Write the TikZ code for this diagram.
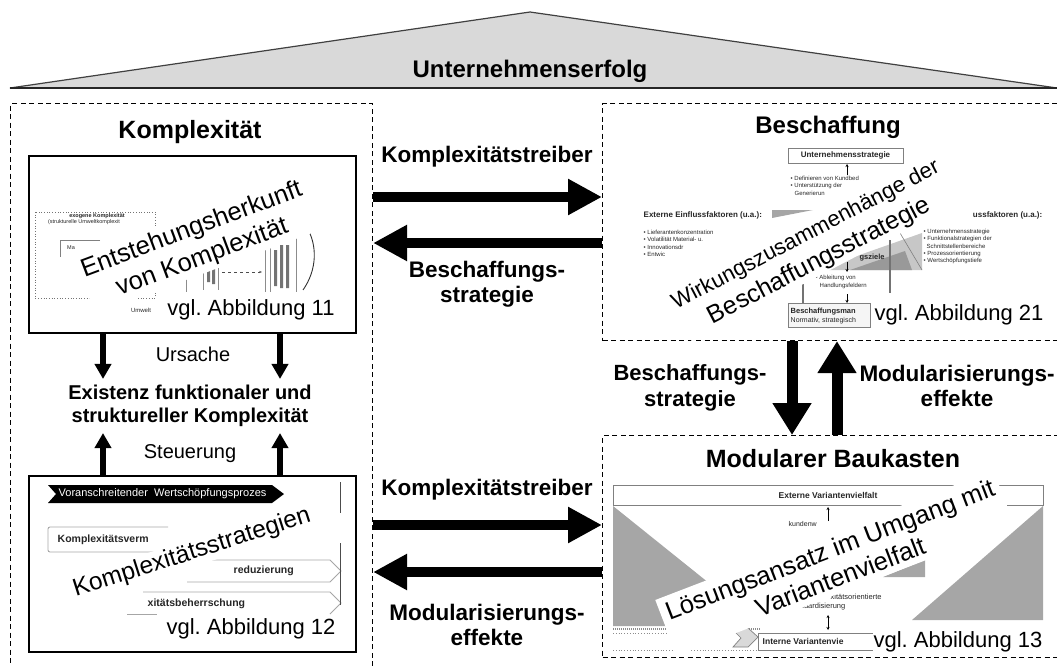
\documentclass[tikz,border=0pt]{standalone}
\usepackage{fontspec}
\setmainfont{Liberation Sans}
\usetikzlibrary{arrows.meta}
\begin{document}
\begin{tikzpicture}[x=1pt,y=-1pt,
  dashbox/.style={draw, dash pattern=on 5pt off 3.5pt, line width=1.1pt, inner sep=0pt, anchor=north west},
  figbox/.style={draw, line width=1.5pt, inner sep=0pt, anchor=north west},
  titletext/.style={font=\fontsize{25}{28}\selectfont\bfseries},
  flowlabel/.style={font=\fontsize{22.5}{25}\selectfont\bfseries, align=center, inner sep=1pt},
  relabel/.style={font=\fontsize{20}{23}\selectfont},
  stamp/.style={fill=white, align=center, inner sep=2pt},
  figref/.style={fill=white, font=\fontsize{22}{24}\selectfont, inner sep=1pt},
  wide arrow/.style={line width=10.5pt, -{Triangle[length=34pt,width=34pt]}},
  tall arrow/.style={line width=11pt, -{Triangle[length=32pt,width=37pt]}},
  thin arrow/.style={line width=5.5pt, -{Triangle[length=15pt,width=16pt]}},
  note/.style={font=\fontsize{#1}{#1}\selectfont, inner sep=0.5pt, text=black!85},
  noteb/.style={font=\fontsize{#1}{#1}\selectfont\bfseries, inner sep=0.5pt, text=black!85},
  sketch/.style={draw=black!50, line width=0.8pt},
  tick/.style={line width=0.7pt, -{Stealth[length=3pt,width=3pt]}},
]
\clip (0,0) rectangle (1057,666);

% roof
\path[fill=black!15, draw=black!75, line width=1.2pt] (10,88) -- (530,12) -- (1057,88) -- cycle;
\draw[line width=2.4pt, black!85] (10,88) -- (1057,88);
\node[font=\fontsize{24}{26}\selectfont\bfseries] (roof) at (530,71) {Unternehmenserfolg};

% the three dashed areas
\node[dashbox, minimum width=362pt, minimum height=600pt] (kbox) at (10,103) {};
\node[dashbox, minimum width=470pt, minimum height=237pt] (bbox) at (602,103) {};
\node[dashbox, minimum width=470pt, minimum height=222pt] (mbox) at (602,435) {};

\node[titletext] (kt) at (190,132) {Komplexität};
\node[titletext, font=\fontsize{24}{26}\selectfont\bfseries] (bt) at (828,127) {Beschaffung};
\node[titletext] (mt) at (833,459) {Modularer Baukasten};

% ---------- figure: origin of complexity
\node[figbox, minimum width=327pt, minimum height=177pt] (f11) at (28,155) {};
\draw[black!55, line width=0.7pt, dotted] (35,212) rectangle (155,298);
\node[noteb=5.5] (a1) at (97,216) {exogene Komplexität};
\node[note=5.5] (a2) at (84,222) {(strukturelle Umweltkomplexit};
\draw[sketch] (100,240) -- (60,240) -- (60,257);
\node[note=5.5] (a3) at (71,248) {Ma};
\draw[black!80, line width=0.9pt] (182,222) .. controls (200,210) and (225,203) .. (252,201);
\draw[black!80, line width=0.9pt] (306,226) .. controls (318,245) and (317,270) .. (303,290);
\draw[black!45, line width=0.6pt] (186,268) -- (186,292) (203,262) -- (203,290) (218,258) -- (218,290)
   (265,248) -- (265,292) (270,244) -- (270,292) (296,238) -- (296,292);
\fill[black!55] (207,268) rectangle (210,282) (212,262) rectangle (215,284)
   (274,250) rectangle (277,286) (280,245) rectangle (283,288) (286,245) rectangle (289,288);
\draw[black!70, line width=0.7pt, dashed, -{Stealth[length=3pt]}] (222,272) -- (262,272);
\node[note=6] (a4) at (141,310) {Umwelt};

% ---------- figure: complexity strategies
\node[figbox, minimum width=327pt, minimum height=176pt] (f12) at (28,475) {};
\fill (48,485) -- (272,485) -- (284,494) -- (272,503) -- (48,503) -- (56,494) -- cycle;
\node[note=11, text=white, anchor=west] (b1) at (58,494) {Voranschreitender\ \ Wertschöpfungsprozes};
\draw[black!35, line width=0.9pt, rounded corners=2pt] (168,527) -- (48,527) -- (48,552) -- (168,552);
\node[noteb=10.5, anchor=west] (b2) at (57,540) {Komplexitätsverm};
\draw[black!35, line width=0.9pt] (187,560) -- (330,560) -- (341,571) -- (330,582) -- (187,582);
\node[noteb=10.5, anchor=west] (b3) at (233,571) {reduzierung};
\draw[black!35, line width=0.9pt] (143,592) -- (330,592) -- (341,603) -- (330,614);
\draw[black!35, line width=0.9pt] (127,614) -- (157,614);
\node[noteb=10.5, anchor=west] (b4) at (147,604) {xitätsbeherrschung};
\draw[black!70, line width=0.9pt] (340,482) -- (340,513) (340,543) -- (340,605);

% ---------- figure: procurement strategy
\draw[sketch] (788,148) rectangle (903,163);
\node[noteb=8] (c1) at (845.5,155.5) {Unternehmensstrategie};
\draw[tick] (847,175) -- (847,164);
\node[note=6, anchor=west] (c2) at (790,178) {• Definieren von Kundbed};
\node[note=6, anchor=west] (c3) at (790,186) {• Unterstützung der};
\node[note=6, anchor=west] (c4) at (794,193) {Generierun};
\node[noteb=8, anchor=west] (c5) at (643,215) {Externe Einflussfaktoren (u.a.):};
\fill[black!35] (772,210) -- (813,210) -- (772,218) -- cycle;
\node[noteb=8, anchor=east] (c6) at (1043,215) {ussfaktoren (u.a.):};
\node[note=6, anchor=west] (c7) at (643,232) {• Lieferantenkonzentration};
\node[note=6, anchor=west] (c8) at (643,239) {• Volatilität Material- u.};
\node[note=6, anchor=west] (c9) at (643,247) {• Innovationsdr};
\node[note=6, anchor=west] (c10) at (643,254) {• Entwic};
\node[note=6, anchor=west] (c11) at (923,232) {• Unternehmensstrategie};
\node[note=6, anchor=west] (c12) at (923,239) {• Funktionalstrategien der};
\node[note=6, anchor=west] (c13) at (926,246) {Schnittstellenbereiche};
\node[note=6, anchor=west] (c14) at (923,254) {• Prozessorientierung};
\node[note=6, anchor=west] (c15) at (923,261) {• Wertschöpfungstiefe};
\fill[black!22] (817,270) -- (922,233) -- (922,270) -- cycle;
\fill[black!40] (850,270) -- (905,251) -- (912,270) -- cycle;
\draw[black!50, line width=0.6pt] (900,233) -- (922,270);
\node[noteb=7.5] (c16) at (872,258) {gsziele};
\draw[black!55, line width=1.1pt] (803,273) -- (803,303) (890,240) -- (890,293);
\draw[tick] (847,262) -- (847,272);
\draw[tick] (847,294) -- (847,303);
\node[note=6, anchor=west] (c17) at (815,278) {• Ableitung von};
\node[note=6, anchor=west] (c18) at (819,286) {Handlungsfeldern};
\draw[sketch, fill=black!4] (788,303) rectangle (870,327);
\node[noteb=7.5, anchor=west] (c19) at (790,312) {Beschaffungsman};
\node[note=7, anchor=west] (c20) at (790,321) {Normativ, strategisch};

% ---------- figure: modular kit
\draw[sketch] (613,485) rectangle (1043,505);
\node[noteb=8.5] (d1) at (828,495) {Externe Variantenvielfalt};
\fill[black!35] (613,506) -- (745,612) -- (745,626) -- (613,626) -- cycle;
\fill[black!35] (1043,506) -- (1043,620) -- (912,620) -- cycle;
\fill[black!35] (883,577) -- (925,560) -- (925,577) -- cycle;
\draw[black!45, line width=2pt, dash pattern=on 1pt off 1pt] (613,629) -- (760,629);
\draw[black!45, line width=0.8pt, dotted] (613,633) -- (735,633) (613,650) -- (760,650);
\draw[black!50, fill=black!15, line width=0.7pt] (733,630) -- (748,628) -- (758,637) -- (748,647) -- (733,647) -- (741,638) -- cycle;
\draw[sketch] (758,633) rectangle (880,650);
\node[noteb=8.5, anchor=west] (d2) at (762,641) {Interne Variantenvie};
\draw[tick] (828,521) -- (828,507);
\node[note=7, anchor=west] (d3) at (788,524) {kundenw};
\node[note=7.5, anchor=west] (d4) at (830,597) {xitätsorientierte};
\node[note=7.5, anchor=west] (d5) at (795,607) {andardisierung};
\draw[line width=0.7pt, {Stealth[length=3pt,width=3pt]}-{Stealth[length=3pt,width=3pt]}] (828,615) -- (828,630);

% ---------- headline stamps laid over the small figures
\node[stamp, rotate=20.5, font=\fontsize{25.5}{30}\selectfont, inner sep=3pt] (o1) at (197,244) {Entstehungsherkunft\\von Komplexität};
\node[stamp, rotate=17.7, font=\fontsize{24.5}{28}\selectfont] (o2) at (192,553) {Komplexitätsstrategien};
\node[stamp, rotate=27.5, font=\fontsize{25}{30}\selectfont, inner sep=1pt] (o3) at (813,249) {{\fontsize{22}{26}\selectfont Wirkungszusammenhänge der}\\Beschaffungsstrategie};
\node[stamp, rotate=21, font=\fontsize{25.5}{29}\selectfont, inner sep=6pt] (o4) at (835,563) {Lösungsansatz im Umgang mit\\Variantenvielfalt};

\node[figref] (r11) at (251,310) {vgl.\ Abbildung 11};
\node[figref] (r12) at (251,629) {vgl.\ Abbildung 12};
\node[figref] (r21) at (959,315) {vgl.\ Abbildung 21};
\node[figref] (r13) at (958,642) {vgl.\ Abbildung 13};

% ---------- left column: cause and control
\node[font=\fontsize{20}{23}\selectfont\bfseries, align=center, inner sep=6pt] (ex) at (190,406) {Existenz funktionaler und\\struktureller Komplexität};
\node[relabel] (ur) at (193,354) {Ursache};
\node[relabel] (st) at (190,454) {Steuerung};
\coordinate (xl) at (103,0);
\coordinate (xr) at (280,0);
\draw[thin arrow] (f11.south -| xl) -- (ex.north -| xl);
\draw[thin arrow] (f11.south -| xr) -- (ex.north -| xr);
\draw[thin arrow] (f12.north -| xl) -- (ex.south -| xl);
\draw[thin arrow] (f12.north -| xr) -- (ex.south -| xr);

% ---------- exchanges between the areas
\coordinate (ya) at (0,197);
\coordinate (yb) at (0,243);
\coordinate (yc) at (0,525);
\coordinate (yd) at (0,572);
\coordinate (xa) at (792,0);
\coordinate (xb) at (837,0);
\draw[wide arrow] (kbox.east |- ya) -- (bbox.west |- ya);
\draw[wide arrow] (bbox.west |- yb) -- (kbox.east |- yb);
\draw[wide arrow] (kbox.east |- yc) -- (mbox.west |- yc);
\draw[wide arrow] (mbox.west |- yd) -- (kbox.east |- yd);
\draw[tall arrow] (bbox.south -| xa) -- (mbox.north -| xa);
\draw[tall arrow] (mbox.north -| xb) -- (bbox.south -| xb);

\node[flowlabel] (l1) at (487,157) {Komplexitätstreiber};
\node[flowlabel] (l2) at (487,284) {Beschaffungs-\\strategie};
\node[flowlabel] (l3) at (487,490) {Komplexitätstreiber};
\node[flowlabel] (l4) at (487,625) {Modularisierungs-\\effekte};
\node[flowlabel, font=\fontsize{22}{26}\selectfont\bfseries] (l5) at (690,388) {Beschaffungs-\\strategie};
\node[flowlabel] (l6) at (957,386) {Modularisierungs-\\effekte};
\end{tikzpicture}
\end{document}
